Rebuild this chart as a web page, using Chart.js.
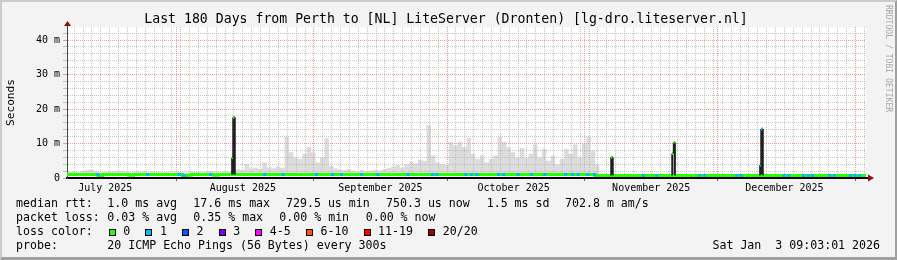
<!DOCTYPE html>
<html>
<head>
<meta charset="utf-8">
<script src="https://cdn.jsdelivr.net/npm/chart.js@4.4.1/dist/chart.umd.min.js"></script>
<style>
  body { margin: 0; background: #f3f3f3; }
  #wrap { position: relative; width: 897px; height: 260px; background: #f3f3f3; overflow: hidden;
          font-family: 'DejaVu Sans Mono', monospace; color: #000; }
  #frame { position: absolute; left: 0; top: 0; width: 897px; height: 260px; box-sizing: border-box;
           border-style: solid; border-width: 2px 2px 3px 2px; border-color: #cbcbcb #a0a0a0 #a0a0a0 #cbcbcb; }
  #chart { position: absolute; left: 0; top: 0; }
  #title { position: absolute; left: 0; width: 892px; top: 11px; text-align: center;
           font-size: 13.2px; line-height: 16px; white-space: pre; }
  #rrd { position: absolute; left: 884px; top: 5px; writing-mode: vertical-rl;
         font-size: 8.1px; color: #a8a8a8; white-space: pre; }
  .t { position: absolute; white-space: pre; font-size: 11.6px; line-height: 14px; }
  .box { position: absolute; width: 7px; height: 7px; box-sizing: border-box; border: 1px solid #000; }
</style>
</head>
<body>
<div id="wrap">
  <div id="frame"></div>
  <canvas id="chart" width="897" height="260"></canvas>
  <div id="title">Last 180 Days from Perth to [NL] LiteServer (Dronten) [lg-dro.liteserver.nl]</div>
  <div id="rrd">RRDTOOL / TOBI OETIKER</div>

  <div class="t" style="left:16px;top:196px">median rtt:</div>
  <div class="t" style="left:107.3px;top:196px">1.0 ms avg</div>
  <div class="t" style="left:193.3px;top:196px">17.6 ms max</div>
  <div class="t" style="left:286px;top:196px">729.5 us min</div>
  <div class="t" style="left:386px;top:196px">750.3 us now</div>
  <div class="t" style="left:486.7px;top:196px">1.5 ms sd</div>
  <div class="t" style="left:565px;top:196px">702.8 m am/s</div>

  <div class="t" style="left:16px;top:210px">packet loss:</div>
  <div class="t" style="left:107.3px;top:210px">0.03 % avg</div>
  <div class="t" style="left:193.3px;top:210px">0.35 % max</div>
  <div class="t" style="left:279.3px;top:210px">0.00 % min</div>
  <div class="t" style="left:365.7px;top:210px">0.00 % now</div>

  <div class="t" style="left:16px;top:224px">loss color:</div>
  <div id="lossLegend"></div>

  <div class="t" style="left:16px;top:238px">probe:</div>
  <div class="t" style="left:107.3px;top:238px">20 ICMP Echo Pings (56 Bytes) every 300s</div>
  <div class="t" style="right:17px;top:238px">Sat Jan  3 09:03:01 2026</div>
</div>

<script>
// x axis is in days since the start of the window (Mon Jul 7 2025 09:03)
const monthNames = ['July 2025', 'August 2025', 'September 2025', 'October 2025', 'November 2025', 'December 2025'];
const monthLabelDays = [8.62, 39.62, 70.62, 100.62, 131.62, 161.62];
const monthStartDays = [24.62, 55.62, 85.62, 116.62, 146.62, 177.62];
const yTickValues = [0, 10, 20, 30, 40];
const yTickLabels = ['0', '10 m', '20 m', '30 m', '40 m'];

// median rtt, one value per day (ms)
const medianMs = [
  1.05, 1.05, 1.0, 1.05, 1.05, 1.05, 1.0, 0.75, 1.05, 1.05,
  1.05, 1.05, 1.05, 1.0, 0.8, 1.0, 1.05, 1.05, 1.05, 1.05,
  1.05, 1.05, 1.05, 1.05, 1.0, 1.05, 0.75, 0.8, 1.05, 1.05,
  1.05, 1.05, 1.0, 0.8, 1.05, 1.05, 1.05, 1.05, 1.05, 1.05,
  1.05, 1.05, 1.05, 1.05, 1.05, 1.05, 1.05, 1.05, 1.05, 1.05,
  1.05, 1.05, 1.05, 1.05, 1.05, 1.05, 1.05, 1.05, 1.05, 1.05,
  1.05, 1.05, 1.05, 1.05, 1.05, 1.05, 1.05, 1.05, 1.05, 1.05,
  1.05, 1.05, 1.05, 1.05, 1.05, 1.05, 1.05, 1.05, 1.05, 1.05,
  1.05, 1.05, 1.05, 1.05, 1.05, 1.05, 1.05, 1.05, 1.05, 1.05,
  1.05, 1.05, 1.05, 1.05, 1.05, 1.05, 1.05, 1.05, 1.05, 1.05,
  1.05, 1.05, 1.05, 1.05, 1.05, 1.05, 1.05, 1.05, 1.05, 1.05,
  1.05, 1.05, 1.05, 1.05, 1.05, 1.05, 1.05, 1.05, 1.05, 0.72,
  0.72, 0.72, 0.72, 0.72, 0.72, 0.72, 0.72, 0.72, 0.72, 0.72,
  0.72, 0.72, 0.72, 0.72, 0.72, 0.72, 0.72, 0.72, 0.72, 0.72,
  0.72, 0.72, 0.72, 0.72, 0.72, 0.72, 0.72, 0.72, 0.72, 0.72,
  0.72, 0.72, 0.72, 0.72, 0.72, 0.72, 0.72, 0.72, 0.72, 0.72,
  0.72, 0.72, 0.72, 0.72, 0.72, 0.72, 0.72, 0.72, 0.72, 0.72,
  0.72, 0.72, 0.72, 0.72, 0.72, 0.72, 0.72, 0.72, 0.72, 0.72
];

// top of the smoke (slowest ping), one value per day (ms), null = no smoke
const smokeMs = [
  1.8, 1.9, 1.7, 2.0, 2.3, 2.4, 2.0, 1.7, 1.8, 1.9,
  2.0, 2.2, 2.1, 1.8, 1.7, 1.9, 1.8, 2.0, 1.7, 1.8,
  1.9, 1.7, 1.8, 1.6, 1.9, 1.8, 1.7, 1.6, 1.8, 1.9,
  1.7, 1.8, 2.0, 1.8, 1.7, 1.9, 1.8, 2.0, 2.6, 2.4,
  4.0, 2.8, 3.0, 2.7, 4.5, 3.1, 2.8, 3.3, 3.0, 12.0,
  7.5, 6.0, 5.5, 7.0, 9.0, 7.5, 4.5, 6.0, 11.5, 3.5,
  2.8, 2.5, 2.3, 2.6, 2.2, 2.0, 2.3, 1.9, 2.1, 2.4,
  2.2, 2.6, 2.9, 3.3, 3.8, 3.0, 4.0, 4.8, 4.3, 5.2,
  5.0, 15.4, 6.5, 4.5, 4.0, 3.8, 10.5, 9.5, 10.5, 9.0,
  11.7, 7.0, 5.5, 6.5, 4.5, 5.5, 6.5, 12.0, 10.5, 9.0,
  7.5, 6.0, 8.7, 5.8, 7.0, 9.7, 6.0, 8.5, 5.0, 6.5,
  4.0, 5.5, 8.5, 7.0, 9.7, 6.0, 10.0, 12.0, 8.0, 4.0,
  null, null, null, null, null, null, null, null, null, null,
  null, null, null, null, null, null, null, null, null, null,
  null, null, null, null, null, null, null, null, null, null,
  null, null, null, null, null, null, null, null, null, null,
  null, null, null, null, null, null, null, null, null, null,
  null, null, null, null, null, null, null, null, null, null
];

// moments with 1/20 packets lost (day)
const lossDays = [
  6.6, 17.8, 24.9, 26.0, 32.0, 44.2, 48.3, 55.8, 59.5,
  61.5, 66.0, 69.7, 76.5, 82.0, 83.0, 89.5, 90.8, 92.0, 96.9, 98.0,
  101.3, 104.3, 107.3, 112.0, 113.5, 114.8, 117.0, 118.5,
  129.5, 132.5, 142.2, 143.3, 150.5, 151.5, 161.2, 162.2, 165.6, 166.6, 167.6,
  171.5, 172.5, 176.2, 177.2, 178.2
];
const lossSpan = 0.7;

// short spikes of the median (day from, day to, ms, loss class)
const spikeStart = [37.15, 37.4, 122.55, 136.3, 136.65, 156.1, 156.35];
const spikeEnd = [37.4, 37.85, 123.0, 136.65, 137.0, 156.35, 156.8];
const spikeMs = [5.9, 17.6, 6.0, 7.1, 10.3, 3.8, 14.2];
const spikeLoss = [0, 0, 0, 0, 0, 1, 1];

const lossLabels = ['0', '1', '2', '3', '4-5', '6-10', '11-19', '20/20'];
const lossColors = ['#26ff00', '#00b8ff', '#0059ff', '#7e00ff', '#ff00ff', '#ff5500', '#ff0000', '#a00000'];

// loss color legend
const legendEl = document.getElementById('lossLegend');
let lx = 108.7;
lossLabels.forEach((lab, i) => {
    const b = document.createElement('div');
    b.className = 'box';
    b.style.left = lx + 'px';
    b.style.top = '228.5px';
    b.style.background = lossColors[i];
    legendEl.appendChild(b);
    const t = document.createElement('div');
    t.className = 't';
    t.style.left = (lx + 14.6) + 'px';
    t.style.top = '224px';
    t.textContent = lab;
    legendEl.appendChild(t);
    lx += 14.6 + lab.length * 7.02 + 15;
});

// step series: each daily value holds for the whole day
function steps(values) {
    const pts = [];
    values.forEach((v, i) => {
        pts.push({ x: i, y: v });
        pts.push({ x: i + 1, y: v });
    });
    return pts;
}

const medAt = d => medianMs[Math.min(medianMs.length - 1, Math.floor(d))];

const lossPts = [];
lossDays.forEach(d => {
    lossPts.push({ x: d, y: medAt(d) });
    lossPts.push({ x: d + lossSpan, y: medAt(d) });
    lossPts.push({ x: d + lossSpan, y: null });
});

const spikePts = [];
for (let i = 0; i < spikeMs.length; i++) {
    const joinedPrev = i > 0 && spikeStart[i] === spikeEnd[i - 1];
    const joinedNext = i + 1 < spikeMs.length && spikeStart[i + 1] === spikeEnd[i];
    if (!joinedPrev) spikePts.push({ x: spikeStart[i], y: medAt(spikeStart[i]), loss: spikeLoss[i] });
    spikePts.push({ x: spikeStart[i], y: spikeMs[i], loss: spikeLoss[i] });
    spikePts.push({ x: spikeEnd[i], y: spikeMs[i], loss: spikeLoss[i] });
    if (!joinedNext) {
        spikePts.push({ x: spikeEnd[i], y: medAt(spikeEnd[i]), loss: spikeLoss[i] });
        spikePts.push({ x: spikeEnd[i], y: null });
    }
}

// x ticks: minor every 2 days, month boundaries, and mid-month labels
function buildXTicks() {
    const ticks = [];
    for (let d = 1.62; d < 180; d += 2) {
        if (monthStartDays.some(m => Math.abs(m - d) < 0.5)) continue;
        ticks.push({ value: d, kind: 'minor' });
    }
    monthStartDays.forEach(d => ticks.push({ value: d, kind: 'major' }));
    monthLabelDays.forEach((d, i) => ticks.push({ value: d, kind: 'label', name: monthNames[i] }));
    ticks.sort((a, b) => a.value - b.value);
    return ticks;
}

const MINOR = 'rgba(140,140,140,0.5)';
const MAJOR = 'rgba(235,70,70,0.55)';

const plotBg = {
    id: 'plotBg',
    beforeDraw(chart) {
        const { ctx, chartArea: a } = chart;
        ctx.save();
        ctx.fillStyle = '#ffffff';
        ctx.fillRect(a.left, a.top, a.right - a.left, a.bottom - a.top);
        ctx.restore();
    }
};

const axisArrows = {
    id: 'axisArrows',
    afterDraw(chart) {
        const { ctx, chartArea: a } = chart;
        ctx.save();
        ctx.strokeStyle = '#444';
        ctx.lineWidth = 1;
        ctx.beginPath();
        ctx.moveTo(a.left + 0.5, a.top);
        ctx.lineTo(a.left + 0.5, a.top - 3);
        ctx.stroke();
        ctx.strokeStyle = '#000';
        ctx.lineWidth = 2;
        ctx.beginPath();
        ctx.moveTo(a.right, a.bottom);
        ctx.lineTo(a.right + 3, a.bottom);
        ctx.stroke();
        ctx.fillStyle = '#8b1010';
        ctx.beginPath();
        ctx.moveTo(a.left + 0.5, a.top - 6);
        ctx.lineTo(a.left - 3, a.top - 1);
        ctx.lineTo(a.left + 4, a.top - 1);
        ctx.closePath();
        ctx.fill();
        ctx.beginPath();
        ctx.moveTo(a.right + 8, a.bottom);
        ctx.lineTo(a.right + 2, a.bottom - 3.5);
        ctx.lineTo(a.right + 2, a.bottom + 3.5);
        ctx.closePath();
        ctx.fill();
        ctx.restore();
    }
};

Chart.defaults.font.family = "'DejaVu Sans Mono', monospace";
Chart.defaults.color = '#000';

new Chart(document.getElementById('chart'), {
    type: 'line',
    data: {
        datasets: [
            {
                label: 'smoke',
                data: steps(smokeMs),
                order: 3,
                borderWidth: 0,
                pointRadius: 0,
                backgroundColor: 'rgba(185,185,185,0.5)',
                fill: { value: 1.0 },
                spanGaps: false
            },
            {
                label: 'median',
                data: steps(medianMs),
                order: 2,
                borderColor: lossColors[0],
                borderWidth: 3,
                borderCapStyle: 'butt',
                pointRadius: 0,
                fill: false
            },
            {
                label: 'loss',
                data: lossPts,
                order: 1,
                borderColor: lossColors[1],
                borderWidth: 3,
                borderCapStyle: 'butt',
                pointRadius: 0,
                fill: false,
                spanGaps: false
            },
            {
                label: 'spikes',
                data: spikePts,
                order: 0,
                borderWidth: 3,
                borderCapStyle: 'butt',
                pointRadius: 0,
                backgroundColor: '#202020',
                fill: { value: 1.0 },
                spanGaps: false,
                segment: {
                    borderColor: c => c.p0.parsed.x === c.p1.parsed.x ? '#202020' : lossColors[c.p0.raw.loss],
                    borderWidth: c => c.p0.parsed.x === c.p1.parsed.x ? 1.5 : 3
                }
            }
        ]
    },
    options: {
        responsive: false,
        devicePixelRatio: 1,
        animation: false,
        events: [],
        layout: { padding: { left: 0, right: 31, top: 27, bottom: 0 } },
        plugins: {
            legend: { display: false },
            tooltip: { enabled: false },
            title: { display: false }
        },
        scales: {
            x: {
                type: 'linear',
                min: 0,
                max: 180,
                afterBuildTicks: scale => { scale.ticks = buildXTicks(); },
                afterFit: scale => { scale.height = 82; },
                ticks: {
                    autoSkip: false,
                    maxRotation: 0,
                    minRotation: 0,
                    padding: 1,
                    font: { size: 10 },
                    color: '#000',
                    callback: (v, i, ticks) => ticks[i].kind === 'label' ? ticks[i].name : ''
                },
                grid: {
                    color: c => c.tick && c.tick.kind === 'major' ? MAJOR : (c.tick && c.tick.kind === 'minor' ? MINOR : 'rgba(0,0,0,0)'),
                    tickColor: c => c.tick && c.tick.kind === 'major' ? '#c04040' : 'rgba(0,0,0,0)',
                    tickLength: 3,
                    lineWidth: 1
                },
                border: { display: true, color: '#000', width: 2, dash: [1, 1] }
            },
            y: {
                type: 'linear',
                min: 0,
                max: 43.8,
                afterBuildTicks: scale => {
                    const t = [];
                    for (let v = 0; v <= 42; v += 2) t.push({ value: v });
                    scale.ticks = t;
                },
                afterFit: scale => { scale.width = 67; },
                ticks: {
                    autoSkip: false,
                    padding: 3,
                    font: { size: 10 },
                    color: '#000',
                    callback: v => {
                        const i = yTickValues.indexOf(v);
                        return i >= 0 ? yTickLabels[i] : '';
                    }
                },
                grid: {
                    color: c => c.tick && c.tick.value % 10 === 0 ? MAJOR : MINOR,
                    tickColor: c => c.tick && c.tick.value % 10 === 0 ? MAJOR : MINOR,
                    tickLength: 4,
                    lineWidth: 1
                },
                border: { display: true, color: '#444', width: 1, dash: [1, 1] },
                title: {
                    display: true,
                    text: 'Seconds',
                    font: { size: 11.1 },
                    color: '#000',
                    padding: { top: 4, bottom: 0 }
                }
            }
        }
    },
    plugins: [plotBg, axisArrows]
});
</script>
</body>
</html>
